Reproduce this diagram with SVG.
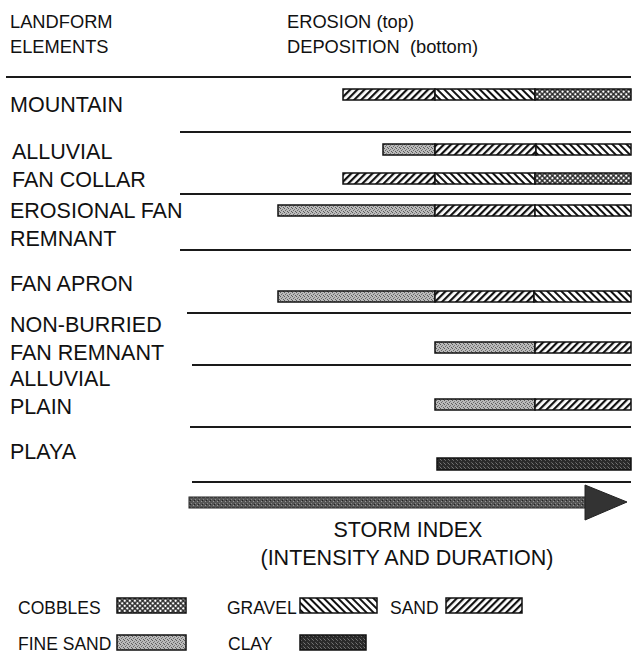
<svg xmlns="http://www.w3.org/2000/svg" width="636" height="655" viewBox="0 0 636 655">
<style>
text{font-family:"Liberation Sans",Arial,sans-serif;font-size:21.5px;fill:#111;}
.hd{font-size:18.3px;}
.lg{font-size:17.5px;}
.rule{stroke:#1a1a1a;stroke-width:2.2;fill:none;}
.seg{stroke:#111;stroke-width:1.5;}
</style>
<defs>
<pattern id="sand" width="5" height="5" patternUnits="userSpaceOnUse" patternTransform="rotate(45)"><rect width="5" height="5" fill="#fff"/><rect width="2.2" height="5" fill="#111"/></pattern>
<pattern id="gravel" width="5" height="5" patternUnits="userSpaceOnUse" patternTransform="rotate(-45)"><rect width="5" height="5" fill="#fff"/><rect width="2" height="5" fill="#111"/></pattern>
<pattern id="cobbles" width="3.6" height="3.6" patternUnits="userSpaceOnUse" patternTransform="rotate(45)"><rect width="3.6" height="3.6" fill="#222"/><rect x="0.7" y="0.7" width="2.2" height="2.2" fill="#fff"/></pattern>
<pattern id="fine" width="4" height="4" patternUnits="userSpaceOnUse"><rect width="4" height="4" fill="#bababa"/><rect x="0" y="0" width="1" height="1" fill="#5a5a5a"/><rect x="2" y="1" width="1" height="1" fill="#7a7a7a"/><rect x="1" y="2" width="1" height="1" fill="#6a6a6a"/><rect x="3" y="3" width="1" height="1" fill="#5a5a5a"/></pattern>
<pattern id="clay" width="4" height="4" patternUnits="userSpaceOnUse"><rect width="4" height="4" fill="#2a2a2a"/><rect x="1" y="0" width="1" height="1" fill="#666"/><rect x="3" y="2" width="1" height="1" fill="#5a5a5a"/><rect x="0" y="3" width="1" height="1" fill="#777"/></pattern>
<pattern id="shaft" width="4" height="4" patternUnits="userSpaceOnUse"><rect width="4" height="4" fill="#555"/><rect x="1" y="1" width="1" height="1" fill="#999"/><rect x="3" y="3" width="1" height="1" fill="#888"/><rect x="2" y="0" width="1" height="1" fill="#222"/></pattern>
</defs>

<g id="headers">
<text class="hd" x="10" y="28">LANDFORM</text>
<text class="hd" x="10" y="53">ELEMENTS</text>
<text class="hd" x="287" y="28">EROSION (top)</text>
<text class="hd" x="287" y="53" xml:space="preserve">DEPOSITION  (bottom)</text>
</g>

<g id="rules">
<line class="rule" x1="6" y1="77" x2="631" y2="77" stroke-width="2.6"/>
<line class="rule" x1="180" y1="132" x2="631" y2="132"/>
<line class="rule" x1="180" y1="194" x2="631" y2="194"/>
<line class="rule" x1="180" y1="250" x2="631" y2="250"/>
<line class="rule" x1="187" y1="313" x2="631" y2="313"/>
<line class="rule" x1="192" y1="365" x2="631" y2="365"/>
<line class="rule" x1="190" y1="427" x2="631" y2="427"/>
<line class="rule" x1="192" y1="482" x2="631" y2="482"/>
</g>

<g id="mountain">
<text x="10" y="112">MOUNTAIN</text>
<rect class="seg" x="343" y="89" width="92" height="11" fill="url(#sand)"/>
<rect class="seg" x="435" y="89" width="100" height="11" fill="url(#gravel)"/>
<rect class="seg" x="535" y="89" width="96" height="11" fill="url(#cobbles)"/>
</g>

<g id="alluvial-fan-collar">
<text x="12" y="159">ALLUVIAL</text>
<text x="12" y="187">FAN COLLAR</text>
<rect class="seg" x="383" y="144" width="52" height="11" fill="url(#fine)"/>
<rect class="seg" x="435" y="144" width="101" height="11" fill="url(#sand)"/>
<rect class="seg" x="536" y="144" width="95" height="11" fill="url(#gravel)"/>
<rect class="seg" x="343" y="173" width="92" height="11" fill="url(#sand)"/>
<rect class="seg" x="435" y="173" width="100" height="11" fill="url(#gravel)"/>
<rect class="seg" x="535" y="173" width="96" height="11" fill="url(#cobbles)"/>
</g>

<g id="erosional-fan-remnant">
<text x="10" y="218">EROSIONAL FAN</text>
<text x="10" y="246">REMNANT</text>
<rect class="seg" x="278" y="205" width="157" height="11" fill="url(#fine)"/>
<rect class="seg" x="435" y="205" width="100" height="11" fill="url(#sand)"/>
<rect class="seg" x="535" y="205" width="96" height="11" fill="url(#gravel)"/>
</g>

<g id="fan-apron">
<text x="10" y="291">FAN APRON</text>
<rect class="seg" x="278" y="291" width="157" height="11" fill="url(#fine)"/>
<rect class="seg" x="435" y="291" width="99" height="11" fill="url(#sand)"/>
<rect class="seg" x="534" y="291" width="97" height="11" fill="url(#gravel)"/>
</g>

<g id="non-burried-fan-remnant">
<text x="10" y="332">NON-BURRIED</text>
<text x="10" y="360">FAN REMNANT</text>
<rect class="seg" x="435" y="342" width="100" height="11" fill="url(#fine)"/>
<rect class="seg" x="535" y="342" width="96" height="11" fill="url(#sand)"/>
</g>

<g id="alluvial-plain">
<text x="10" y="386">ALLUVIAL</text>
<text x="10" y="414">PLAIN</text>
<rect class="seg" x="435" y="399" width="100" height="11" fill="url(#fine)"/>
<rect class="seg" x="535" y="399" width="96" height="11" fill="url(#sand)"/>
</g>

<g id="playa">
<text x="10" y="459">PLAYA</text>
<rect class="seg" x="437" y="458" width="194" height="12" fill="url(#clay)"/>
</g>

<g id="storm-index">
<rect x="189" y="497" width="398" height="11" fill="url(#shaft)" stroke="#222" stroke-width="1"/>
<polygon points="585,485 627,502 585,520" fill="#333" stroke="#222" stroke-width="1"/>
<text x="408" y="537" text-anchor="middle">STORM INDEX</text>
<text x="407" y="565" text-anchor="middle">(INTENSITY AND DURATION)</text>
</g>

<g id="legend">
<text class="lg" x="18" y="614">COBBLES</text>
<rect class="seg" x="117" y="598" width="69" height="15" fill="url(#cobbles)"/>
<text class="lg" x="227" y="614">GRAVEL</text>
<rect class="seg" x="300" y="598" width="77" height="15" fill="url(#gravel)"/>
<text class="lg" x="390" y="614">SAND</text>
<rect class="seg" x="446" y="598" width="76" height="15" fill="url(#sand)"/>
<text class="lg" x="18" y="650">FINE SAND</text>
<rect class="seg" x="117" y="635" width="69" height="15" fill="url(#fine)"/>
<text class="lg" x="228" y="650">CLAY</text>
<rect class="seg" x="300" y="635" width="66" height="15" fill="url(#clay)"/>
</g>
</svg>
